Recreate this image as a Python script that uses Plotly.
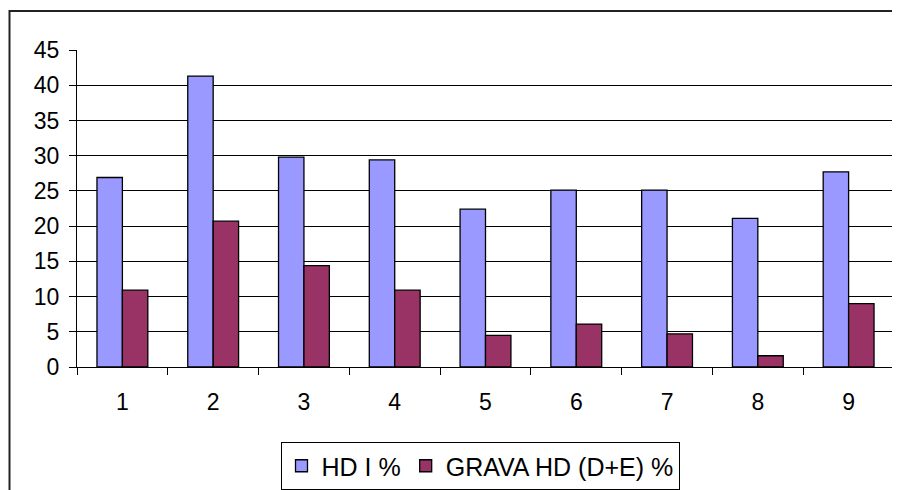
import plotly.graph_objects as go

categories = ["1", "2", "3", "4", "5", "6", "7", "8", "9"]
hd_i = [26.9, 41.3, 29.8, 29.4, 22.4, 25.1, 25.1, 21.1, 27.7]
grava_hd = [10.9, 20.7, 14.4, 10.9, 4.5, 6.1, 4.7, 1.6, 9.0]
series_names = ["HD I %", "GRAVA HD (D+E) %"]
y_ticks = [0, 5, 10, 15, 20, 25, 30, 35, 40, 45]

OFF = 8  # default body margin of the html page
W, H = 900 - OFF, 490 - OFF
# plot area in page pixels
PX0, PX1, PY0, PY1 = 77, 894, 49.5, 366.7
L = PX0 - OFF
R = W - (PX1 - OFF)
T = PY0 - OFF
B = H - (PY1 - OFF)
pw = W - L - R
ph = H - T - B

def px_x(x):
    return (x - OFF - L) / pw

def px_y(y):
    return (H - B - (y - OFF)) / ph

fig = go.Figure()
fig.add_trace(go.Bar(x=categories, y=hd_i, name=series_names[0],
                     marker=dict(color="#9999FF", line=dict(color="black", width=1.3))))
fig.add_trace(go.Bar(x=categories, y=grava_hd, name=series_names[1],
                     marker=dict(color="#993366", line=dict(color="black", width=1.3))))

font = dict(family="Liberation Sans, Arial, sans-serif", size=23, color="black")

fig.update_layout(
    width=W, height=H,
    margin=dict(l=L, r=R, t=T, b=B, pad=0, autoexpand=False),
    paper_bgcolor="white", plot_bgcolor="white",
    barmode="group", bargap=0.44, bargroupgap=0,
    font=font,
    showlegend=True,
    legend=dict(orientation="h", xref="container", yref="container",
                x=(480 - OFF) / W, xanchor="center",
                y=1 - (442 - OFF) / H, yanchor="top",
                bordercolor="black", borderwidth=1, font=dict(size=25),
                itemwidth=30, bgcolor="white"),
    xaxis=dict(type="category", showline=True, linecolor="black", linewidth=1,
               ticks="outside", tickson="boundaries", ticklen=7, tickcolor="black",
               showgrid=False, tickfont=font, ticklabelstandoff=14, automargin=False),
    yaxis=dict(range=[0, 45], tickvals=y_ticks, showline=True, linecolor="black", linewidth=1,
               ticks="outside", ticklen=7, tickcolor="black",
               showgrid=True, gridcolor="black", gridwidth=1, zeroline=False,
               tickfont=font, ticklabelstandoff=5, automargin=False),
    shapes=[dict(type="rect", xref="paper", yref="paper",
                 x0=px_x(9.5), x1=px_x(930), y0=px_y(520), y1=px_y(10.5),
                 line=dict(color="#222222", width=2), fillcolor="rgba(0,0,0,0)", layer="below")],
)

fig.write_html("out.html")
